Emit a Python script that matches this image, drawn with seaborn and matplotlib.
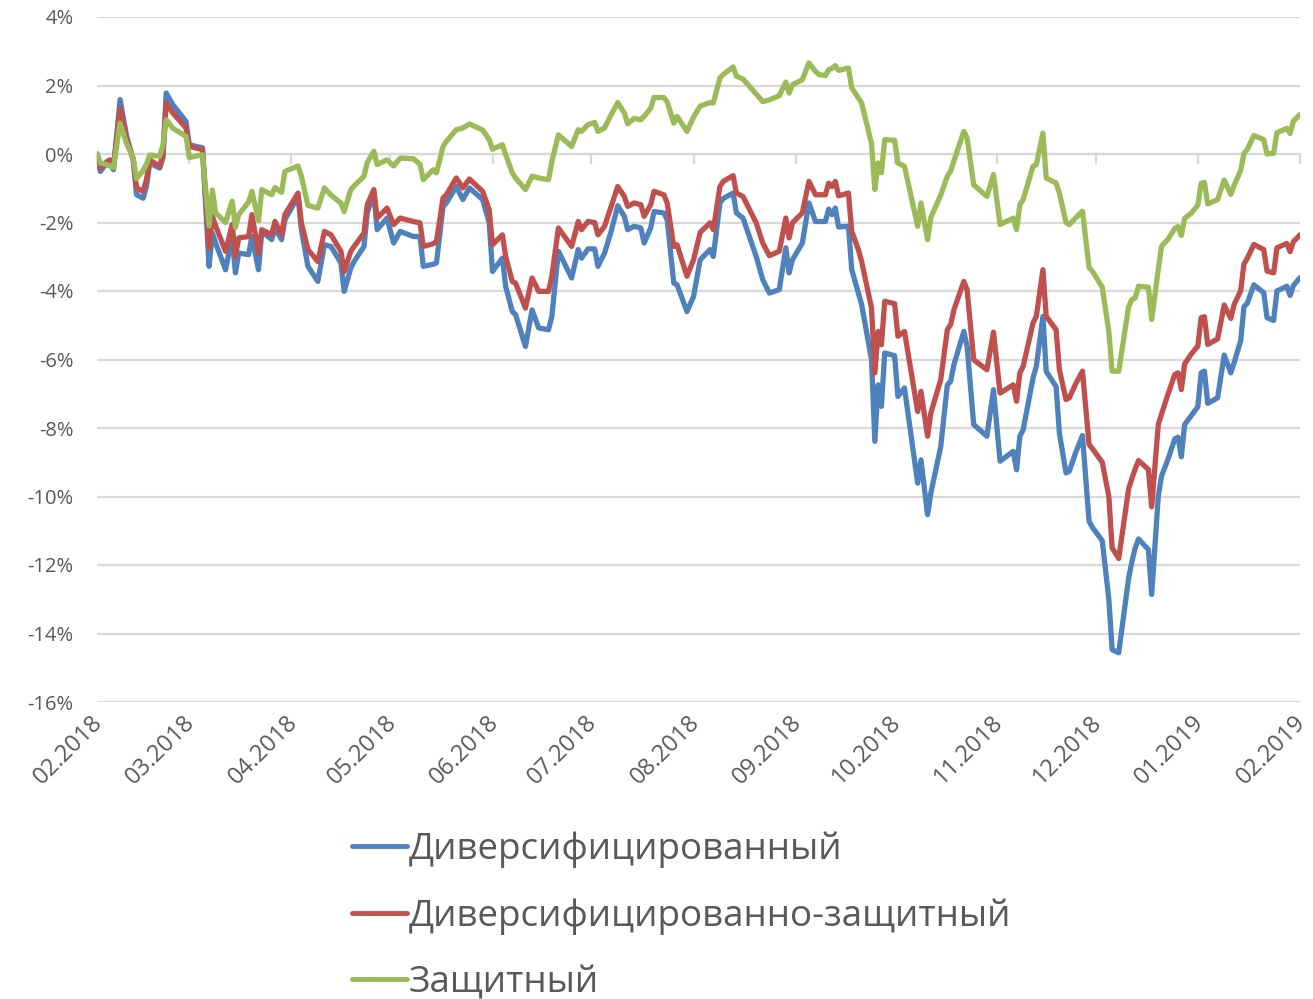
import pandas as pd
import matplotlib
matplotlib.use("Agg")
import matplotlib.pyplot as plt
import matplotlib.dates as mdates
import matplotlib.transforms as mtransforms
from matplotlib.ticker import FuncFormatter, MultipleLocator
import seaborn as sns

# days since 01.02.2018, shared by all three portfolios
days = [0, 1, 3, 4, 5, 7, 9, 11, 12, 14, 15, 16, 19, 20, 21, 23, 27, 28, 32, 34,
        35, 36, 39, 41, 42, 43, 46, 47, 49, 50, 53, 54, 56, 57, 61, 62, 64, 67, 69, 71, 74,
        75, 77, 78, 81, 82, 84, 85, 88, 90, 92, 96, 98, 99, 102, 103, 105, 106, 109, 111, 113,
        117, 119, 120, 123, 124, 126, 127, 130, 132, 134, 137, 138, 140, 144,
        146, 147, 149, 151, 152, 154, 156, 158, 160, 161, 163, 165, 166, 168, 169, 172, 173, 175,
        176, 179, 181, 183, 186, 187, 189, 190, 193, 194, 196, 200, 202, 204, 207, 209, 210, 211,
        214, 216, 218, 219,
        221, 222, 223, 224, 225, 228, 229, 231, 232, 235, 236, 237, 238, 239, 242, 243, 245, 249,
        250, 252, 253, 256, 258, 259, 260, 263, 264, 266, 270, 272, 274, 278, 279, 280, 281, 284,
        285, 287, 288, 291, 292,
        294, 295, 297, 299, 301, 302, 305, 307, 308, 310, 313, 314, 315, 316, 319, 320, 322, 323,
        325, 327, 328, 329, 330, 332, 334, 335, 336, 337, 340, 342, 344, 345, 347, 348, 349, 351,
        354, 355, 357, 358, 361, 362, 363, 365]

# cumulative return, %
diversified = [0, -0.51, -0.26, -0.3, -0.46, 1.59, 0.51, -0.17, -1.19, -1.29, -0.95, -0.26, -0.41, -0.12, 1.78, 1.44, 0.95, 0.27, 0.18, -3.28,
               -2.31, -2.6, -3.38, -2.41, -3.47, -2.89, -2.94, -2.41, -3.38, -2.26, -2.5, -2.16, -2.5, -1.92, -1.24, -2.21, -3.28, -3.72, -2.65, -2.7, -3.18,
               -4.01, -3.33, -3.14, -2.7, -1.72, -1.14, -2.21, -1.87, -2.6, -2.26, -2.41, -2.41, -3.28, -3.22, -3.18, -1.53, -1.43, -0.95, -1.33, -0.99,
               -1.33, -2.01, -3.43, -3.04, -3.87, -4.6, -4.69, -5.62, -4.55, -5.08, -5.13, -4.74, -2.84, -3.62,
               -2.79, -3.04, -2.77, -2.77, -3.28, -2.89, -2.26, -1.51, -1.82, -2.21, -2.11, -2.16, -2.6, -2.16, -1.68, -1.72, -1.92, -3.77,
               -3.82, -4.6, -4.16, -3.09, -2.79, -2.99, -1.43, -1.3, -1.14, -1.72, -1.87, -2.99, -3.67, -4.06, -3.96, -2.74, -3.47, -3.09,
               -2.6, -1.43, -1.97, -1.97,
               -1.97, -1.61, -1.77, -1.58, -2.13, -2.11, -3.38, -4.06, -4.4, -6.01, -8.39, -6.74, -7.37, -5.81, -5.89, -7.08, -6.83, -9.61,
               -8.93, -10.53, -9.9, -8.54, -6.74, -6.64, -6.15, -5.18, -5.62, -7.9, -8.24, -6.88, -8.97, -8.68, -9.22, -8.24, -8.05, -6.54,
               -6.2, -4.74, -6.35, -6.79, -8.15,
               -9.31, -9.26, -8.7, -8.22, -10.72, -10.9, -11.29, -13.0, -14.47, -14.56, -12.39, -11.9, -11.5, -11.24, -11.55, -12.86, -9.99, -9.4,
               -8.9, -8.32, -8.27, -8.84, -7.9, -7.64, -7.38, -6.39, -6.34, -7.28, -7.12, -5.87, -6.39, -6.1, -5.45, -4.46, -4.36, -3.82,
               -4.05, -4.78, -4.86, -4.0, -3.86, -4.13, -3.84, -3.61]

div_protective = [0, -0.41, -0.22, -0.17, -0.36, 1.34, 0.42, -0.17, -0.99, -1.09, -0.75, -0.17, -0.36, -0.02, 1.49, 1.2, 0.76, 0.22, 0.13, -2.74,
                  -1.82, -2.1, -2.84, -2.06, -2.99, -2.45, -2.41, -1.77, -2.89, -2.21, -2.36, -1.97, -2.36, -1.77, -1.14, -2.01, -2.79, -3.14, -2.26, -2.36, -2.84,
                  -3.43, -2.84, -2.7, -2.31, -1.48, -1.04, -1.87, -1.58, -2.06, -1.87, -1.97, -2.01, -2.7, -2.62, -2.55, -1.28, -1.19, -0.7, -0.99, -0.73,
                  -1.09, -1.63, -2.65, -2.36, -2.99, -3.72, -3.77, -4.5, -3.62, -4.01, -4.01, -3.57, -2.16, -2.7,
                  -1.97, -2.21, -1.97, -2.0, -2.36, -2.11, -1.53, -0.95, -1.24, -1.53, -1.43, -1.48, -1.82, -1.48, -1.09, -1.19, -1.43, -2.7,
                  -2.65, -3.57, -3.09, -2.29, -2.01, -2.21, -0.95, -0.8, -0.63, -1.14, -1.24, -2.01, -2.6, -2.97, -2.84, -1.87, -2.45, -2.01,
                  -1.72, -0.8, -1.19, -1.19,
                  -1.19, -0.85, -0.95, -0.8, -1.22, -1.14, -2.26, -2.79, -3.14, -4.5, -6.39, -5.18, -5.57, -4.3, -4.37, -5.32, -5.18, -7.52,
                  -6.93, -8.24, -7.56, -6.59, -5.13, -4.98, -4.55, -3.72, -3.96, -6.01, -6.3, -5.2, -6.98, -6.74, -7.22, -6.39, -6.2, -4.93,
                  -4.74, -3.38, -4.74, -5.13, -6.3,
                  -7.17, -7.12, -6.7, -6.34, -8.48, -8.6, -9.0, -10.0, -11.5, -11.81, -9.78, -9.47, -9.2, -8.95, -9.21, -10.3, -7.9, -7.59,
                  -7.0, -6.44, -6.39, -6.88, -6.13, -5.84, -5.61, -4.78, -4.75, -5.56, -5.4, -4.41, -4.8, -4.4, -3.99, -3.21, -3.05, -2.64,
                  -2.79, -3.42, -3.47, -2.74, -2.61, -2.85, -2.56, -2.36]

protective = [0, -0.26, -0.31, -0.35, -0.4, 0.9, 0.3, -0.12, -0.72, -0.48, -0.3, -0.03, -0.07, 0.25, 1.0, 0.75, 0.52, -0.1, -0.02, -2.1,
              -1.05, -1.72, -2.0, -1.38, -2.15, -1.77, -1.4, -1.09, -1.95, -1.04, -1.19, -0.98, -1.12, -0.51, -0.35, -0.65, -1.5, -1.58, -0.99, -1.2, -1.43,
              -1.68, -1.04, -0.93, -0.65, -0.25, 0.08, -0.31, -0.17, -0.35, -0.12, -0.14, -0.3, -0.75, -0.46, -0.55, 0.22, 0.37, 0.71, 0.76, 0.88,
              0.7, 0.42, 0.14, 0.27, -0.02, -0.55, -0.7, -1.04, -0.65, -0.7, -0.75, -0.22, 0.56, 0.22,
              0.71, 0.66, 0.86, 0.92, 0.66, 0.76, 1.15, 1.5, 1.2, 0.88, 1.04, 1.0, 1.1, 1.34, 1.65, 1.65, 1.52, 0.9,
              1.1, 0.66, 1.08, 1.4, 1.5, 1.49, 2.22, 2.32, 2.54, 2.27, 2.19, 1.75, 1.53, 1.58, 1.7, 2.1, 1.78, 2.02,
              2.17, 2.66, 2.41, 2.32,
              2.29, 2.46, 2.5, 2.58, 2.44, 2.51, 1.93, 1.64, 1.49, 0.3, -1.04, -0.26, -0.55, 0.42, 0.4, -0.26, -0.36, -2.11,
              -1.43, -2.5, -1.85, -1.2, -0.65, -0.5, -0.2, 0.66, 0.47, -0.9, -1.24, -0.6, -2.06, -1.87, -2.21, -1.48, -1.33, -0.36,
              -0.31, 0.61, -0.7, -0.85, -1.14,
              -2.0, -2.06, -1.86, -1.67, -3.32, -3.42, -3.89, -5.19, -6.34, -6.34, -4.46, -4.25, -4.2, -3.86, -3.89, -4.83, -3.37, -2.69,
              -2.48, -2.17, -2.12, -2.38, -1.88, -1.73, -1.49, -0.86, -0.83, -1.46, -1.33, -0.76, -1.18, -0.92, -0.48, 0.02, 0.13, 0.54,
              0.42, 0.0, 0.02, 0.62, 0.75, 0.6, 0.96, 1.15]

names = ["Диверсифицированный", "Диверсифицированно-защитный", "Защитный"]
colors = ["#4F81BD", "#C0504D", "#9BBB59"]

dates = pd.Timestamp("2018-02-01") + pd.to_timedelta(days, unit="D")
df = pd.DataFrame({"date": dates, names[0]: diversified,
                   names[1]: div_protective, names[2]: protective})
df = df.melt(id_vars="date", var_name="portfolio", value_name="ret")

sns.set_style("white")
plt.rcParams["font.family"] = ["Open Sans", "DejaVu Sans"]

fig = plt.figure(figsize=(13.13, 9.99), dpi=100)
ax = fig.add_axes([97 / 1313, 1 - 702 / 999, 1203 / 1313, 685 / 999])

sns.lineplot(data=df, x="date", y="ret", hue="portfolio", hue_order=names,
             palette=colors, linewidth=3.8, errorbar=None, sort=False, ax=ax)

ax.set_ylim(-16, 4)
ax.set_xlim(pd.Timestamp("2018-02-01"), pd.Timestamp("2019-02-01"))
ax.yaxis.set_major_locator(MultipleLocator(2))
ax.yaxis.set_major_formatter(FuncFormatter(lambda v, p: f"{v:.0f}%"))
ax.yaxis.grid(True, color="#D9D9D9", linewidth=1.6)
ax.xaxis.grid(False)
for s in ax.spines.values():
    s.set_visible(False)
ax.set_xlabel("")
ax.set_ylabel("")

months = pd.date_range("2018-02-01", "2019-02-01", freq="MS")
ax.set_xticks(months)
ax.set_xticklabels([m.strftime("%m.%Y") for m in months], rotation=45, ha="right", va="top")
ax.tick_params(axis="both", length=0, labelcolor="#595959")
ax.tick_params(axis="y", pad=17, labelsize=14.5)
ax.tick_params(axis="x", pad=6, labelsize=17)
offset = mtransforms.ScaledTranslation(0.11, 0, fig.dpi_scale_trans)
for lbl in ax.get_xticklabels():
    lbl.set_transform(lbl.get_transform() + offset)

# small month ticks on the zero line
zero_axis = ax.secondary_xaxis(0.8)
zero_axis.set_alignment("bottom")
zero_axis.set_xticks(mdates.date2num(months))
zero_axis.set_xticklabels([])
zero_axis.tick_params(axis="x", length=7, width=1.6, color="#D9D9D9", direction="out")
zero_axis.spines["bottom"].set_color("#D9D9D9")
zero_axis.spines["bottom"].set_linewidth(1.6)
zero_axis.spines["top"].set_visible(False)

handles, labels = ax.get_legend_handles_labels()
ax.get_legend().remove()
leg = fig.legend(handles, labels, loc="upper left", bbox_to_anchor=(352 / 1313, 1 - 831 / 999),
                 frameon=False, fontsize=26.5, handlelength=1.5, handletextpad=0.05,
                 labelspacing=0.83, borderpad=0, borderaxespad=0, labelcolor="#595959")
for h in leg.legend_handles:
    h.set_linewidth(3.5)

fig.savefig("out.png", dpi=100)
